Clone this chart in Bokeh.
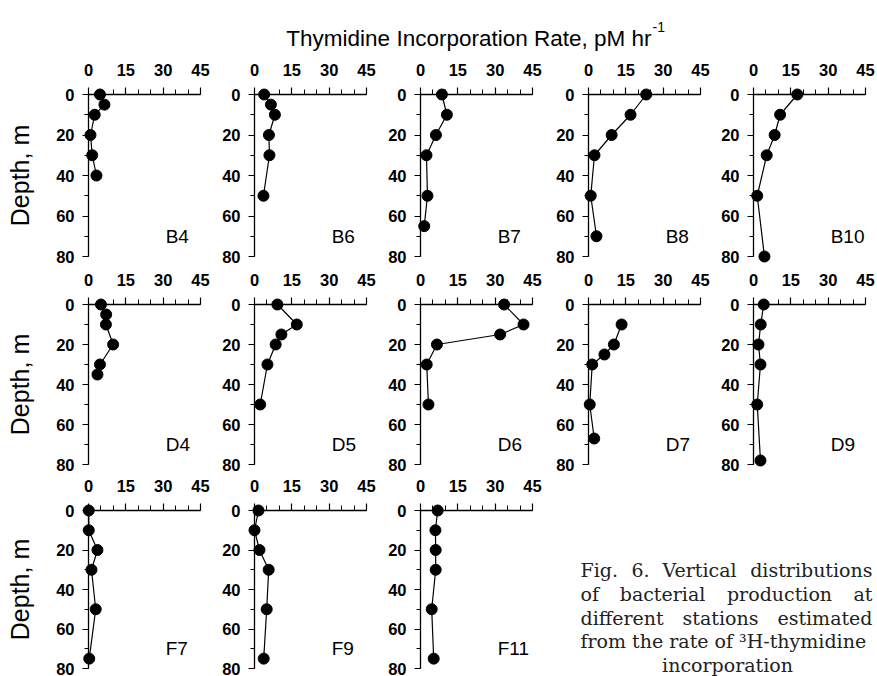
import math
from bokeh.plotting import figure
from bokeh.models import Range1d, Label, FixedTicker, LinearAxis, GridPlot
from bokeh.embed import file_html
from bokeh.resources import INLINE

# ---------------- data (depth in m, thymidine incorporation rate in pM/hr) ----------------
b4_depth = [0, 5, 10, 20, 30, 40]
b4_rate = [4.6, 6.4, 2.5, 0.8, 1.5, 3.2]
b6_depth = [0, 5, 10, 20, 30, 50]
b6_rate = [3.9, 6.6, 8.2, 5.8, 6.0, 3.6]
b7_depth = [0, 10, 20, 30, 50, 65]
b7_rate = [8.6, 10.6, 6.2, 2.4, 2.8, 1.5]
b8_depth = [0, 10, 20, 30, 50, 70]
b8_rate = [23.2, 16.9, 9.3, 2.4, 0.9, 3.2]
b10_depth = [0, 10, 20, 30, 50, 80]
b10_rate = [17.6, 10.7, 8.5, 5.3, 1.5, 4.4]
d4_depth = [0, 5, 10, 20, 30, 35]
d4_rate = [5.0, 7.1, 7.0, 9.9, 4.6, 3.6]
d5_depth = [0, 10, 15, 20, 30, 50]
d5_rate = [9.2, 17.0, 10.8, 8.5, 5.2, 2.3]
d6_depth = [0, 10, 15, 20, 30, 50]
d6_rate = [33.6, 41.4, 32.0, 6.6, 2.5, 3.2]
d7_depth = [10, 20, 25, 30, 50, 67]
d7_rate = [13.3, 10.2, 6.4, 1.5, 0.5, 2.3]
d9_depth = [0, 10, 20, 30, 50, 78]
d9_rate = [4.1, 2.9, 2.0, 2.8, 1.5, 2.8]
f7_depth = [0, 10, 20, 30, 50, 75]
f7_rate = [0.1, 0.1, 3.6, 1.2, 2.9, 0.3]
f9_depth = [0, 10, 20, 30, 50, 75]
f9_rate = [1.6, 0.0, 2.0, 5.7, 4.9, 3.7]
f11_depth = [0, 10, 20, 30, 50, 75]
f11_rate = [6.9, 6.0, 6.1, 6.1, 4.5, 5.3]

x_ticks = [0, 15, 30, 45]
x_minor = [0, 5, 10, 15, 20, 25, 30, 35, 40, 45]
y_ticks = [0, 20, 40, 60, 80]
y_minor = [0, 10, 20, 30, 40, 50, 60, 70, 80]

title_text = "Thymidine Incorporation Rate, pM hr"
title_sup = "-1"
depth_label = "Depth, m"

layout_rows = [
    [("B4", b4_depth, b4_rate), ("B6", b6_depth, b6_rate), ("B7", b7_depth, b7_rate),
     ("B8", b8_depth, b8_rate), ("B10", b10_depth, b10_rate)],
    [("D4", d4_depth, d4_rate), ("D5", d5_depth, d5_rate), ("D6", d6_depth, d6_rate),
     ("D7", d7_depth, d7_rate), ("D9", d9_depth, d9_rate)],
    [("F7", f7_depth, f7_rate), ("F9", f9_depth, f9_rate), ("F11", f11_depth, f11_rate)],
]

caption_lines = [
    ["Fig.", "6.", "Vertical", "distributions"],
    ["of", "bacterial", "production", "at"],
    ["different", "stations", "estimated"],
    ["from the rate of \u00b3H-thymidine"],
    ["incorporation"],
]

# ---------------- geometry (page pixels) ----------------
COL_EDGES = [0, 210, 376, 542, 710, 877]
ROW_EDGES = [0, 60, 264, 472, 676]   # first band holds the title
COL_AXIS_X = [88, 254, 420, 588, 753]
ROW_TOP = [94, 304, 510]
ROW_H = [162, 160, 158]
FRAME_W = 112

TICK_FONT = "Liberation Sans"


def blank_fig(x0, x1, y0, y1):
    f = figure(width=x1 - x0, height=y1 - y0, x_range=Range1d(x0, x1), y_range=Range1d(y1, y0),
               x_axis_location=None, y_axis_location=None, toolbar_location=None,
               output_backend="svg", min_border=0)
    f.outline_line_color = None
    f.grid.visible = False
    return f


def make_panel(name, depth, rate, r, c):
    sx = FRAME_W / 45.0
    sy = ROW_H[r] / 80.0
    x0, x1 = COL_EDGES[c], COL_EDGES[c + 1]
    y0, y1 = ROW_EDGES[r + 1], ROW_EDGES[r + 2]
    ax_x, ax_y = COL_AXIS_X[c], ROW_TOP[r]
    p = figure(width=x1 - x0, height=y1 - y0,
               x_range=Range1d(-(ax_x - x0) / sx, 45 + (x1 - ax_x - FRAME_W) / sx),
               y_range=Range1d(80 + (y1 - ax_y - ROW_H[r]) / sy, -(ax_y - y0) / sy),
               x_axis_location=None, y_axis_location=None, toolbar_location=None,
               output_backend="svg", min_border=0)
    p.outline_line_color = None
    p.grid.visible = False

    xa = LinearAxis(fixed_location=0, bounds=(0, 45),
                    ticker=FixedTicker(ticks=x_ticks, minor_ticks=x_minor))
    ya = LinearAxis(fixed_location=0, bounds=(0, 80),
                    ticker=FixedTicker(ticks=y_ticks, minor_ticks=y_minor))
    for ax in (xa, ya):
        ax.axis_line_color = "black"
        ax.axis_line_width = 1.3
        ax.major_tick_line_color = "black"
        ax.minor_tick_line_color = "black"
        ax.major_tick_line_width = 1.2
        ax.minor_tick_line_width = 1.0
        ax.major_tick_in = 0
        ax.minor_tick_in = 0
        ax.major_label_text_font = TICK_FONT
        ax.major_label_text_font_size = "16.5px"
        ax.major_label_text_font_style = "bold"
        ax.major_label_text_color = "black"
    xa.major_tick_out = 7
    xa.minor_tick_out = 5
    xa.major_label_standoff = 12
    ya.major_tick_out = 6
    ya.minor_tick_out = 4
    ya.major_label_standoff = 8
    p.add_layout(xa, "above")
    p.add_layout(ya, "left")

    p.line(rate, depth, line_color="black", line_width=1.2)
    p.scatter(rate, depth, size=11, fill_color="black", line_color="black")

    p.add_layout(Label(x=31, y=70, text=name, text_font=TICK_FONT, text_font_size="19px",
                       text_color="black", text_align="left", text_baseline="alphabetic"))
    if c == 0:
        p.add_layout(Label(x=(19 - ax_x) / sx, y=40, text=depth_label, angle=math.pi / 2,
                           text_font=TICK_FONT, text_font_size="25px", text_color="black",
                           text_align="center", text_baseline="middle"))
    return p


children = []

tf = blank_fig(0, 877, ROW_EDGES[0], ROW_EDGES[1])
tf.add_layout(Label(x=651, y=38, text=title_text, text_font=TICK_FONT, text_font_size="22.5px",
                    text_color="black", text_align="right", text_baseline="alphabetic"))
tf.add_layout(Label(x=652, y=26, text=title_sup, text_font=TICK_FONT, text_font_size="14px",
                    text_color="black", text_align="left", text_baseline="alphabetic"))
children.append((tf, 0, 0, 1, 5))

for r, row in enumerate(layout_rows):
    for c, (name, depth, rate) in enumerate(row):
        children.append((make_panel(name, depth, rate, r, c), r + 1, c))

cf = blank_fig(COL_EDGES[3], COL_EDGES[5], ROW_EDGES[3], ROW_EDGES[4])
line_y = [569, 593, 617, 640, 664]
# (x position, alignment) for each word of the justified caption lines
word_pos = [
    [(580, "left"), (640, "center"), (699, "center"), (872, "right")],
    [(580, "left"), (662, "center"), (779, "center"), (872, "right")],
    [(580, "left"), (720, "center"), (872, "right")],
    [(580, "left")],
    [(727, "center")],
]
for i, words in enumerate(caption_lines):
    for j, w in enumerate(words):
        x, align = word_pos[i][j]
        cf.add_layout(Label(x=x, y=line_y[i], text=w, text_font="DejaVu Serif",
                            text_font_size="19px", text_color="#222222",
                            text_align=align, text_baseline="alphabetic"))
children.append((cf, 3, 3, 1, 2))

grid = GridPlot(children=children, toolbar_location=None, spacing=0)

open("out.html", "w").write(file_html(grid, INLINE))
